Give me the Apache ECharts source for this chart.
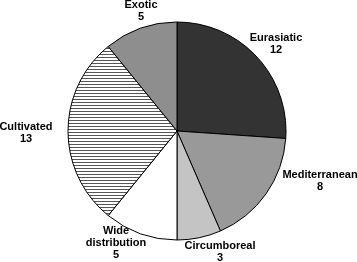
<!DOCTYPE html>
<html>
<head>
<meta charset="utf-8">
<script src="https://cdn.jsdelivr.net/npm/echarts@6/dist/echarts.min.js"></script>
<style>
html,body{margin:0;padding:0;background:#fff;}
#chart{width:357px;height:262px;}
</style>
</head>
<body>
<div id="chart"></div>
<script>
var categories = ['Eurasiatic', 'Mediterranean', 'Circumboreal', 'Wide\ndistribution', 'Cultivated', 'Exotic'];
var values = [12, 8, 3, 5, 13, 5];

// layout / style (not data)
var labelPos = [[276, 44], [320, 181], [220, 252], [116, 243], [26, 133], [141, 11]];

var stripe = document.createElement('canvas');
stripe.width = 4; stripe.height = 3;
var sctx = stripe.getContext('2d');
sctx.fillStyle = '#ffffff'; sctx.fillRect(0, 0, 4, 3);
sctx.fillStyle = '#555555'; sctx.fillRect(0, 0, 4, 1);

var colors = ['#333333', '#999999', '#c4c4c4', '#ffffff', {image: stripe, repeat: 'repeat'}, '#8e8e8e'];

var chart = echarts.init(document.getElementById('chart'), null, {renderer: 'canvas'});
chart.setOption({
  animation: false,
  backgroundColor: '#ffffff',
  series: [{
    type: 'pie',
    center: [177, 131],
    radius: 109,
    startAngle: 90,
    clockwise: true,
    avoidLabelOverlap: false,
    data: categories.map(function (c, i) {
      return {name: c, value: values[i], itemStyle: {color: colors[i]}};
    }),
    itemStyle: {borderColor: '#000', borderWidth: 1},
    label: {
      show: true,
      position: 'outside',
      formatter: '{b}\n{c}',
      fontFamily: 'Liberation Sans, Arial, sans-serif',
      fontWeight: 'bold',
      fontSize: 11,
      lineHeight: 12,
      color: '#000',
      align: 'center'
    },
    labelLine: {show: false},
    labelLayout: function (p) {
      var pos = labelPos[p.dataIndex];
      return {x: pos[0], y: pos[1], align: 'center', verticalAlign: 'middle'};
    },
    emphasis: {disabled: true}
  }]
});
</script>
</body>
</html>
